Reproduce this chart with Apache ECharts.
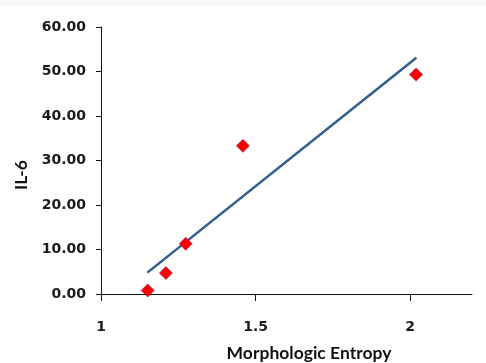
<!DOCTYPE html>
<html>
<head>
    <meta charset="utf-8">
    <title>IL-6 vs Morphologic Entropy</title>
    <style>
        html, body { margin: 0; padding: 0; background: #fff; }
        #chartBox { width: 486px; height: 363px; }
    </style>
</head>
<body>
    <div id="chartBox"></div>
    <script src="https://cdn.jsdelivr.net/npm/echarts@6/dist/echarts.min.js"></script>
    <script>
// 数据点 (Morphologic Entropy, IL-6)
var entropy = [1.151, 1.210, 1.274, 1.459, 2.019];
var il6 = [0.8, 4.7, 11.3, 33.3, 49.3];
// 趋势线两个端点
var trendX = [1.15, 2.02];
var trendY = [4.8, 53.1];
// 刻度
var xTicks = [1, 1.5, 2];

var labelFont = { fontFamily: 'DejaVu Sans', fontWeight: 'bold', fontSize: 14, color: '#1a1a1a' };
var nameFont = { fontFamily: 'Lato', fontWeight: 'bold', fontSize: 17.5, color: '#111' };

var chart = echarts.init(document.getElementById('chartBox'));

var option = {
    backgroundColor: '#fff',
    animation: false,
    graphic: [{
        type: 'rect',
        shape: { x: 0, y: 0, width: 486, height: 6 },
        style: { fill: '#f7f7f7' },
        silent: true
    }],
    grid: { left: 101, right: 14, top: 27, bottom: 69, containLabel: false, outerBoundsMode: 'none' },
    xAxis: {
        type: 'value',
        min: 1,
        max: 2.2,
        interval: 0.5,
        name: 'Morphologic Entropy',
        nameLocation: 'middle',
        nameGap: 50,
        nameTextStyle: Object.assign({ padding: [0, 0, 0, 45] }, nameFont),
        axisLine: { show: true, lineStyle: { color: '#111', width: 1 } },
        axisTick: { show: true, length: 7, customValues: xTicks, lineStyle: { color: '#111' } },
        axisLabel: Object.assign({ margin: 26, customValues: xTicks }, labelFont),
        splitLine: { show: false }
    },
    yAxis: {
        type: 'value',
        min: 0,
        max: 60,
        interval: 10,
        name: 'IL-6',
        nameLocation: 'middle',
        nameGap: 69,
        nameTextStyle: Object.assign({ padding: [0, 29, 0, 0] }, nameFont),
        axisLine: { show: true, lineStyle: { color: '#111', width: 1 } },
        axisTick: { show: true, length: 5, lineStyle: { color: '#111' } },
        axisLabel: Object.assign({
            margin: 15,
            formatter: function (v) { return v.toFixed(2); }
        }, labelFont),
        splitLine: { show: false }
    },
    series: [
        {
            // 线性趋势线
            type: 'line',
            data: trendX.map(function (x, i) { return [x, trendY[i]]; }),
            showSymbol: false,
            lineStyle: { color: '#2f5d8f', width: 2.5 },
            z: 2
        },
        {
            type: 'scatter',
            data: entropy.map(function (x, i) { return [x, il6[i]]; }),
            symbol: 'diamond',
            symbolSize: 13,
            itemStyle: { color: '#ff0000', borderColor: '#8a1a50', borderWidth: 0.6, opacity: 1 },
            z: 3
        }
    ]
};

chart.setOption(option);
window.addEventListener('resize', function () { chart.resize(); });
    </script>
</body>
</html>
